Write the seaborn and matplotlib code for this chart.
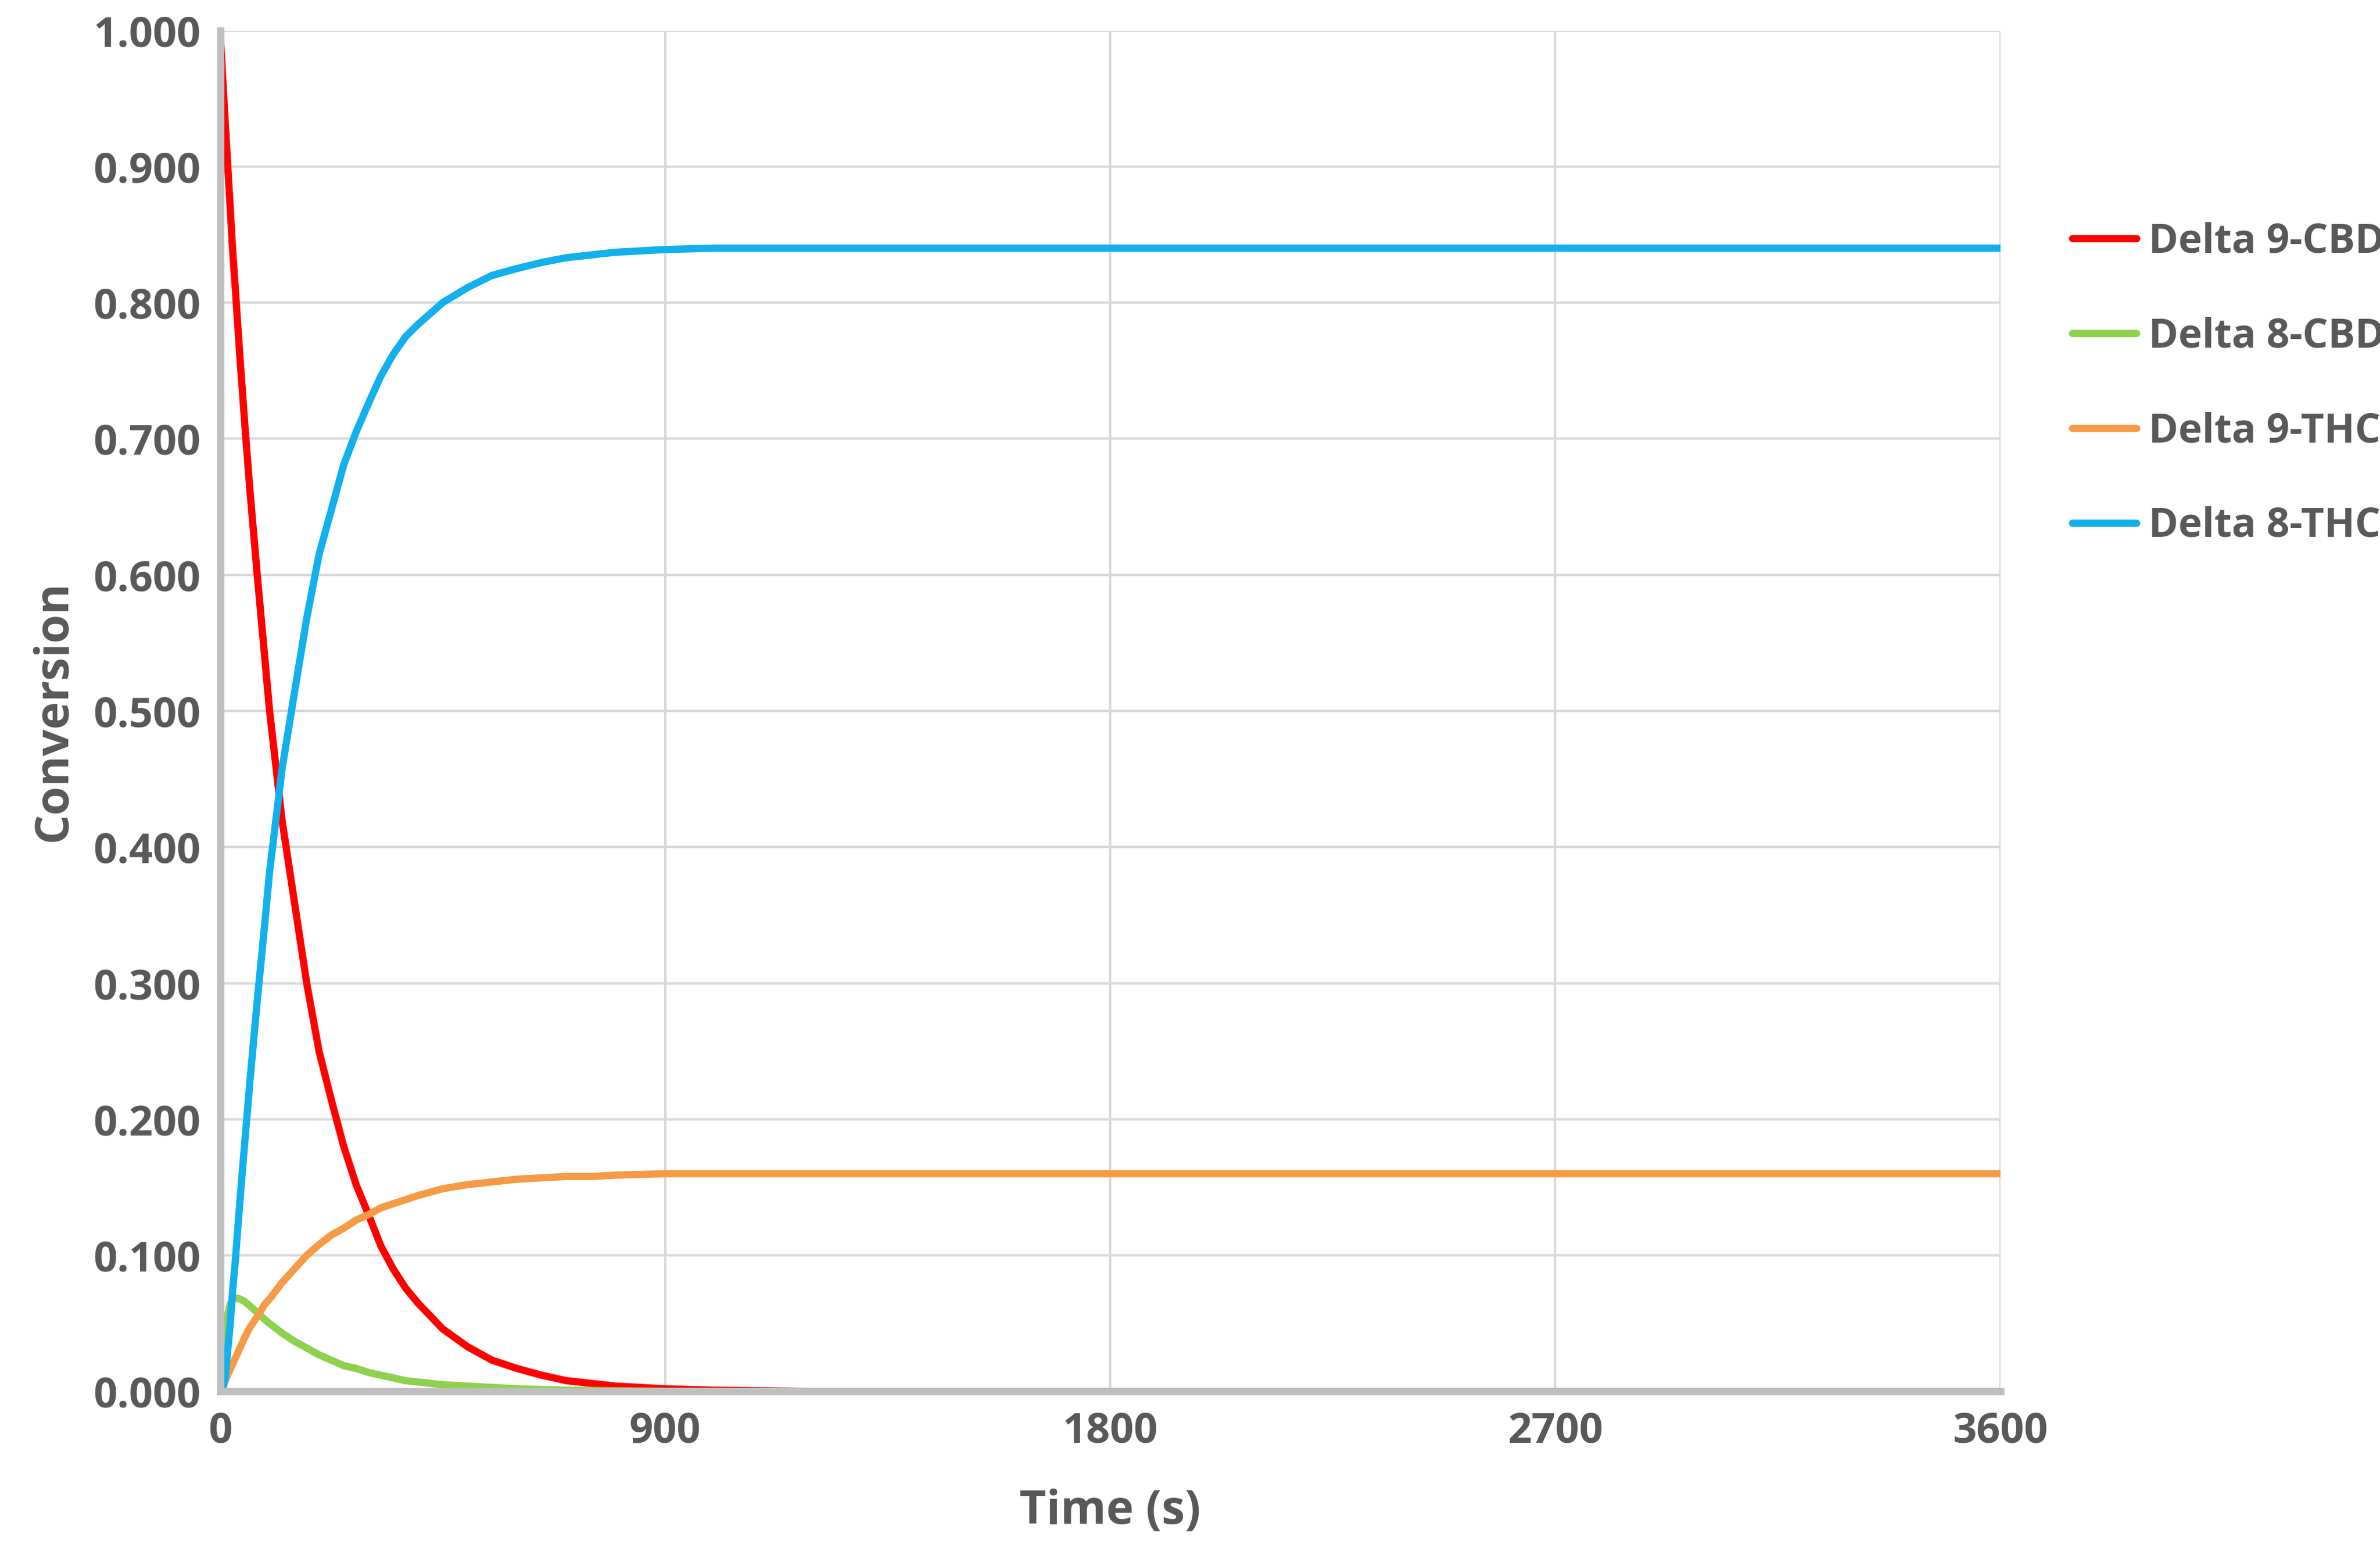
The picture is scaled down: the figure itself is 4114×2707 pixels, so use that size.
import matplotlib
matplotlib.use("Agg")
import matplotlib.pyplot as plt
import seaborn as sns
import pandas as pd
from matplotlib.ticker import MultipleLocator, FormatStrFormatter

time_s = [0, 5, 10, 20, 25, 30, 40, 50, 60, 75, 90, 100, 125, 150, 175, 200, 225, 250, 275, 300,
          325, 350, 375, 400, 450, 500, 550, 600, 650, 700, 750, 800, 900, 1000, 1200, 1800, 2700, 3600]
d9_cbd = [1.0, 0.966, 0.934, 0.872, 0.84, 0.814, 0.76, 0.71, 0.663, 0.60, 0.54, 0.50, 0.42, 0.36, 0.30, 0.25,
          0.214, 0.18, 0.152, 0.13, 0.107, 0.09, 0.076, 0.065, 0.046, 0.033, 0.023, 0.017, 0.012, 0.008,
          0.006, 0.004, 0.002, 0.001, 0.0, 0.0, 0.0, 0.0]
d8_cbd = [0.0, 0.03, 0.048, 0.064, 0.067, 0.069, 0.068, 0.066, 0.063, 0.058, 0.053, 0.05, 0.043, 0.037,
          0.032, 0.027, 0.023, 0.019, 0.017, 0.014, 0.012, 0.010, 0.008, 0.007, 0.005, 0.004, 0.003, 0.002,
          0.0015, 0.001, 0.0008, 0.0005, 0.0002, 0.0, 0.0, 0.0, 0.0, 0.0]
d9_thc = [0.0, 0.003, 0.008, 0.016, 0.02, 0.024, 0.032, 0.04, 0.047, 0.055, 0.064, 0.068, 0.08, 0.09, 0.1,
          0.108, 0.115, 0.12, 0.126, 0.13, 0.135, 0.138, 0.141, 0.144, 0.149, 0.152, 0.154, 0.156, 0.157,
          0.158, 0.158, 0.159, 0.16, 0.16, 0.16, 0.16, 0.16, 0.16]
d8_thc = [0.0, 0.001, 0.010, 0.048, 0.073, 0.093, 0.14, 0.184, 0.227, 0.287, 0.343, 0.382, 0.457, 0.513,
          0.568, 0.615, 0.648, 0.681, 0.705, 0.726, 0.746, 0.762, 0.775, 0.784, 0.80, 0.811, 0.82, 0.825,
          0.8295, 0.833, 0.835, 0.837, 0.839, 0.84, 0.84, 0.84, 0.84, 0.84]
names = ["Delta 9-CBD", "Delta 8-CBD", "Delta 9-THC", "Delta 8-THC"]
colors = ["#FF0000", "#8DD14F", "#F79A46", "#12B0EC"]

rows = []
for n, s in zip(names, [d9_cbd, d8_cbd, d9_thc, d8_thc]):
    for t, v in zip(time_s, s):
        rows.append({"Time (s)": t, "Conversion": v, "Species": n})
df = pd.DataFrame(rows)

sns.set_theme(style="white")
plt.rcParams["font.family"] = ["Open Sans", "DejaVu Sans"]
grey = "#595959"
fig = plt.figure(figsize=(41.14, 27.07), dpi=100)
ax = fig.add_axes([0.0925, 0.1114, 0.748, 0.8692])
sns.lineplot(data=df, x="Time (s)", y="Conversion", hue="Species", hue_order=names,
             palette=colors, linewidth=9, ax=ax, legend=True)
ax.set_xlim(0, 3600)
ax.set_ylim(0, 1.0)
ax.xaxis.set_major_locator(MultipleLocator(900))
ax.yaxis.set_major_locator(MultipleLocator(0.1))
ax.xaxis.set_minor_locator(MultipleLocator(90))
ax.yaxis.set_minor_locator(MultipleLocator(0.02))
ax.yaxis.set_major_formatter(FormatStrFormatter("%.3f"))
ax.grid(True, which="major", color="#D9D9D9", linewidth=3)
for side in ["top", "right"]:
    ax.spines[side].set_visible(False)
for side in ["left", "bottom"]:
    ax.spines[side].set_color("#BFBFBF")
    ax.spines[side].set_linewidth(9)
ax.tick_params(which="both", direction="in", color="#BFBFBF", width=5, length=12,
               labelsize=52, labelcolor=grey, pad=24)
ax.tick_params(which="major", length=0)
for lab in ax.get_xticklabels() + ax.get_yticklabels():
    lab.set_fontweight("bold")
ax.set_xlabel("Time (s)", fontsize=58, fontweight="bold", color=grey, labelpad=45)
ax.set_ylabel("Conversion", fontsize=58, fontweight="bold", color=grey, labelpad=20)
leg = ax.legend(loc="center left", bbox_to_anchor=(1.02, 0.74), frameon=False,
                fontsize=50, handlelength=1.6, labelspacing=1.35, handletextpad=0.3)
for t in leg.get_texts():
    t.set_color(grey); t.set_fontweight("bold")
for l in leg.get_lines():
    l.set_linewidth(9)
fig.savefig("out.png", dpi=100, facecolor="white")
